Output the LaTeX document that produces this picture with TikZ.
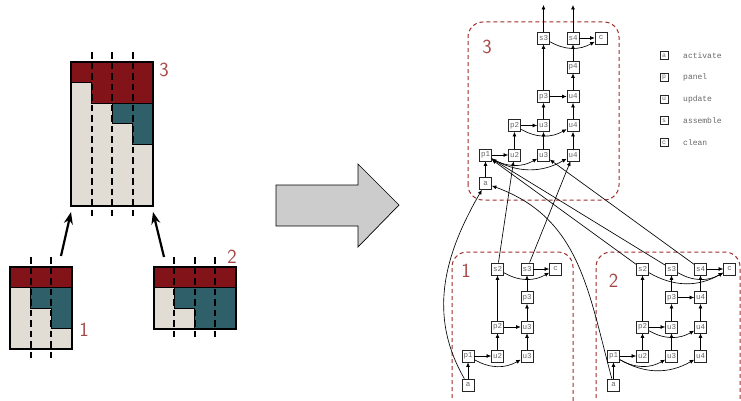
\documentclass[tikz,border=0pt]{standalone}
\usepackage{fontspec}
\setmonofont{Liberation Mono}
\usetikzlibrary{arrows.meta}
\definecolor{blkred}{RGB}{130,20,25}
\definecolor{blkteal}{RGB}{47,95,104}
\definecolor{blkbeige}{RGB}{226,221,212}
\definecolor{clus}{RGB}{160,45,45}
\definecolor{lbl}{RGB}{165,70,70}
\begin{document}
\begin{tikzpicture}[x=1pt,y=1pt,
 task/.style={draw=black!85, fill=white, line width=0.7pt, minimum width=12pt, minimum height=12pt, inner sep=0pt, font=\ttfamily\fontsize{7.5}{8}\selectfont, text=black!60},
 legbox/.style={draw=black!85, line width=0.6pt, minimum size=8pt, inner sep=0pt, font=\ttfamily\fontsize{6.5}{7}\selectfont, text=black!60},
 legtext/.style={anchor=west, inner sep=0pt, font=\ttfamily\fontsize{8}{9}\selectfont, text=black!60},
 dep/.style={-{Latex[length=4.5pt,width=4pt]}, line width=0.65pt},
 cluster/.style={draw=clus, dash pattern=on 4pt off 3pt, line width=1pt, rounded corners=15pt},
 clabel/.style={font=\sffamily\fontsize{20}{20}\selectfont, text=lbl, inner sep=0pt},
 cellpart/.style={draw=black, line width=0.6pt},
 blockedge/.style={draw=black, line width=2pt},
 colline/.style={black, line width=2pt, dash pattern=on 6.5pt off 4pt},
 bigarrow/.style={-{Stealth[length=12pt,width=9pt]}, line width=2.2pt},
]
\useasboundingbox (0,0) rectangle (741,400);
\clip (0,0) rectangle (741,400);

% ---------- left: block 3
\fill[blkbeige] (71,194.5) rectangle (153,338);
\draw[cellpart, fill=blkred] (71,338) -- (153,338) -- (153,297) -- (91.5,297) -- (91.5,317.5) -- (71,317.5) -- cycle;
\draw[cellpart, fill=blkteal] (112,297) -- (153,297) -- (153,256) -- (132.5,256) -- (132.5,276.5) -- (112,276.5) -- cycle;
\draw[blockedge] (71,194.5) rectangle (153,338);
\foreach \x in {91.5,112,132.5} \draw[colline] (\x,348) -- (\x,184);
\node[clabel] (lab3) at (164,330) {3};

% ---------- left: block 1
\fill[blkbeige] (10,51) rectangle (71.5,133);
\draw[cellpart, fill=blkred] (10,112.5) rectangle (71.5,133);
\draw[cellpart, fill=blkteal] (30.5,112.5) -- (71.5,112.5) -- (71.5,71.5) -- (51,71.5) -- (51,92) -- (30.5,92) -- cycle;
\draw[blockedge] (10,51) rectangle (71.5,133);
\foreach \x in {30.5,51} \draw[colline] (\x,143) -- (\x,41);
\node[clabel] (lab1) at (84,70) {1};

% ---------- left: block 2
\fill[blkbeige] (153.5,71.5) rectangle (235.5,133);
\draw[cellpart, fill=blkred] (153.5,112.5) rectangle (235.5,133);
\draw[cellpart, fill=blkteal] (174,112.5) -- (235.5,112.5) -- (235.5,71.5) -- (194.5,71.5) -- (194.5,92) -- (174,92) -- cycle;
\draw[blockedge] (153.5,71.5) rectangle (235.5,133);
\foreach \x in {174,194.5,215} \draw[colline] (\x,143) -- (\x,62);
\node[clabel] (lab2) at (232,143) {2};

% left arrows
\coordinate (b1top) at (61,144);
\coordinate (b3bl) at (71,188);
\coordinate (b2top) at (164,143);
\coordinate (b3br) at (153,188);
\draw[bigarrow] (b1top) -- (b3bl);
\draw[bigarrow] (b2top) -- (b3br);

% big arrow
\draw[fill=black!20, line width=0.7pt] (276,215) -- (358,215) -- (358,236) -- (399,195) -- (358,153) -- (358,174) -- (276,174) -- cycle;

% ---------- clusters
\draw[cluster] (468,200) rectangle (619,378);
\draw[cluster] (452,-20) rectangle (573,148);
\draw[cluster] (596,-20) rectangle (740,148);
\node[clabel] (c3lab) at (487,353.5) {3};
\node[clabel] (c1lab) at (466,129.5) {1};
\node[clabel] (c2lab) at (613.5,119.5) {2};

% ---------- cluster 3 nodes
\node[task] (3s3) at (543.5,362) {s3};
\node[task] (3s4) at (573,362) {s4};
\node[task] (3c)  at (601,362) {c};
\node[task] (3p4) at (573,333) {p4};
\node[task] (3p3) at (543.5,303.5) {p3};
\node[task] (3u4c) at (573,303.5) {u4};
\node[task] (3p2) at (514.5,274.5) {p2};
\node[task] (3u3b) at (543.5,274.5) {u3};
\node[task] (3u4b) at (573,274.5) {u4};
\node[task] (3p1) at (485.5,245) {p1};
\node[task] (3u2) at (514.5,245) {u2};
\node[task] (3u3) at (543.5,245) {u3};
\node[task] (3u4) at (573,245) {u4};
\node[task] (3a) at (485.5,216.5) {a};
\coordinate (o3) at (543.5,395);
\coordinate (o4) at (573,395);

% ---------- cluster 1 nodes
\node[task] (1a) at (468,15) {a};
\node[task] (1p1) at (468,44) {p1};
\node[task] (1u2) at (497.5,44) {u2};
\node[task] (1u3) at (527,44) {u3};
\node[task] (1p2) at (497.5,73) {p2};
\node[task] (1u3b) at (527,73) {u3};
\node[task] (1p3) at (527,102.5) {p3};
\node[task] (1s2) at (497.5,131) {s2};
\node[task] (1s3) at (527,131) {s3};
\node[task] (1c) at (555.5,131) {c};

% ---------- cluster 2 nodes
\node[task] (2a) at (613.5,15) {a};
\node[task] (2p1) at (613.5,44) {p1};
\node[task] (2u2) at (642.5,44) {u2};
\node[task] (2u3) at (671.5,44) {u3};
\node[task] (2u4) at (700.5,44) {u4};
\node[task] (2p2) at (642.5,73) {p2};
\node[task] (2u3b) at (671.5,73) {u3};
\node[task] (2u4b) at (700.5,73) {u4};
\node[task] (2p3) at (671.5,102.5) {p3};
\node[task] (2u4c) at (700.5,102.5) {u4};
\node[task] (2s2) at (642.5,131) {s2};
\node[task] (2s3) at (671.5,131) {s3};
\node[task] (2s4) at (700.5,131) {s4};
\node[task] (2c) at (729.5,131) {c};

% ---------- legend
\node[legbox] (la) at (664,344.3) {a};
\node[legtext] (lta) at (683,344.3) {activate};
\node[legbox] (lp) at (664,322.7) {p};
\node[legtext] (ltp) at (683,322.7) {panel};
\node[legbox] (lu) at (664,300.7) {u};
\node[legtext] (ltu) at (683,300.7) {update};
\node[legbox] (ls) at (664,279.3) {s};
\node[legtext] (lts) at (683,279.3) {assemble};
\node[legbox] (lc) at (664,257.3) {c};
\node[legtext] (ltc) at (683,257.3) {clean};

% ---------- edges cluster 3
\draw[dep] (3a) -- (3p1);
\draw[dep] (3p1) -- (3u2);
\draw[dep] (3p1) to[bend right=30] (3u3);
\draw[dep] (3p1) to[bend right=30] (3u4);
\draw[dep] (3u2) -- (3p2);
\draw[dep] (3u3) -- (3u3b);
\draw[dep] (3u4) -- (3u4b);
\draw[dep] (3p2) -- (3u3b);
\draw[dep] (3p2) to[bend right=30] (3u4b);
\draw[dep] (3u3b) -- (3p3);
\draw[dep] (3u4b) -- (3u4c);
\draw[dep] (3p3) -- (3u4c);
\draw[dep] (3u4c) -- (3p4);
\draw[dep] (3p4) -- (3s4);
\draw[dep] (3p3) -- (3s3);
\draw[dep] (3s3) to[bend right=30] (3c);
\draw[dep] (3s4) -- (3c);
\draw[dep] (3s3) -- (o3);
\draw[dep] (3s4) -- (o4);

% ---------- edges cluster 1
\draw[dep] (1a) -- (1p1);
\draw[dep] (1p1) -- (1u2);
\draw[dep] (1p1) to[bend right=30] (1u3);
\draw[dep] (1u2) -- (1p2);
\draw[dep] (1u3) -- (1u3b);
\draw[dep] (1p2) -- (1u3b);
\draw[dep] (1u3b) -- (1p3);
\draw[dep] (1p3) -- (1s3);
\draw[dep] (1p2) -- (1s2);
\draw[dep] (1s2) to[bend right=30] (1c);
\draw[dep] (1s3) -- (1c);

% ---------- edges cluster 2
\draw[dep] (2a) -- (2p1);
\draw[dep] (2p1) -- (2u2);
\draw[dep] (2p1) to[bend right=30] (2u3);
\draw[dep] (2p1) to[bend right=30] (2u4);
\draw[dep] (2u2) -- (2p2);
\draw[dep] (2u3) -- (2u3b);
\draw[dep] (2u4) -- (2u4b);
\draw[dep] (2p2) -- (2u3b);
\draw[dep] (2p2) to[bend right=30] (2u4b);
\draw[dep] (2u3b) -- (2p3);
\draw[dep] (2u4b) -- (2u4c);
\draw[dep] (2p3) -- (2u4c);
\draw[dep] (2p3) -- (2s3);
\draw[dep] (2u4c) -- (2s4);
\draw[dep] (2p2) -- (2s2);
\draw[dep] (2s2) to[bend right=30] (2c);
\draw[dep] (2s3) to[bend right=30] (2c);
\draw[dep] (2s4) -- (2c);

% ---------- cross edges
\draw[dep] (1s2) -- (3u2);
\draw[dep] (1s3) -- (3u4);
\draw[dep] (2s2) -- (3p1);
\draw[dep] (2s3) -- (3p1);
\draw[dep] (2s4) -- (3u3);
\draw[dep] (1a) to[out=120, in=-120, looseness=1] (3a);
\draw[dep] (2a) to[out=105, in=-20, looseness=1.05] (3a);
\end{tikzpicture}
\end{document}
